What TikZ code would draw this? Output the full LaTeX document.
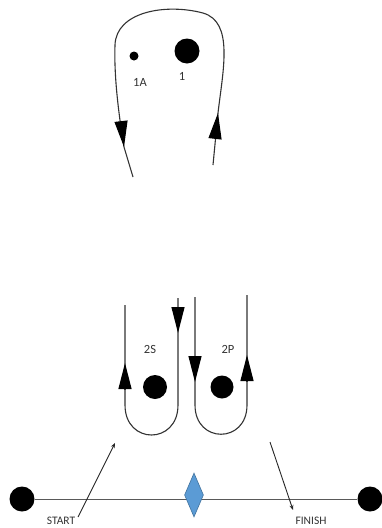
\documentclass[tikz,border=0pt]{standalone}
\usepackage{fontspec}
\setmainfont{Carlito}
\usetikzlibrary{arrows.meta,shapes.geometric}
\begin{document}
\begin{tikzpicture}[x=1pt,y=-1pt,
  loopline/.style={draw=black!80,line width=1.1pt},
  bigtip/.style={-{Triangle[length=26pt,width=13pt,color=black]},draw=black!80,line width=1.1pt},
  dot/.style={circle,fill=black,inner sep=0pt,minimum size=#1},
  lbl/.style={font=\fontsize{12.5}{14}\selectfont,text=black!80,inner sep=0pt},
  pointer/.style={draw=black!85,line width=0.9pt,-{Stealth[length=5pt,width=4pt]}}]
\useasboundingbox (0,0) rectangle (382,528);
% top loop
\draw[loopline] (213,165) -- (218,113) .. controls (223,70) and (234,22) .. (203,13)
  .. controls (165,3) and (116,12) .. (115,45) .. controls (114,75) and (118,110) .. (124,147) -- (133,177);
\draw[bigtip] (121,121) -- (124,147);
\draw[bigtip] (215,139) -- (218,113);
\node[dot=9pt] (d1a) at (134,56) {};
\node[dot=25pt] (d1) at (187,51) {};
\node[lbl] (l1a) at (140,82) {1A};
\node[lbl] (l1) at (182,76) {1};
% bottom loops
\draw[loopline] (178,298) -- (178,405) .. controls (178,445) and (125,445) .. (125,405) -- (125,305);
\draw[bigtip] (178,307) -- (178,333);
\draw[bigtip] (125,389) -- (125,363);
\draw[loopline] (195,297) -- (195,405) .. controls (195,444) and (247,444) .. (247,405) -- (247,295);
\draw[bigtip] (195,356) -- (195,382);
\draw[bigtip] (247,381) -- (247,355);
\node[dot=24pt] (d2s) at (155,387) {};
\node[dot=23pt] (d2p) at (222,387) {};
\node[lbl] (l2s) at (150,349) {2S};
\node[lbl] (l2p) at (228,349) {2P};
% baseline
\node[dot=25pt] (ls) at (22,499) {};
\node[dot=25pt] (rs) at (370,499) {};
\draw[draw=black!65,line width=1pt] (ls) -- (rs);
\node[diamond,draw={rgb,255:red,65;green,113;blue,156},fill={rgb,255:red,91;green,155;blue,213},line width=0.6pt,
  minimum width=19pt,minimum height=44pt,inner sep=0pt,aspect=0.43] (dm) at (194,495) {};
\node[lbl,font=\fontsize{11.5}{13}\selectfont] (start) at (61,521) {START};
\node[lbl,font=\fontsize{11.5}{13}\selectfont] (finish) at (311,521) {FINISH};
\coordinate (sa) at (78,517);
\coordinate (sb) at (115,443);
\coordinate (fa) at (270,442);
\coordinate (fb) at (293,510);
\draw[pointer] (sa) -- (sb);
\draw[pointer] (fa) -- (fb);
\end{tikzpicture}
\end{document}
